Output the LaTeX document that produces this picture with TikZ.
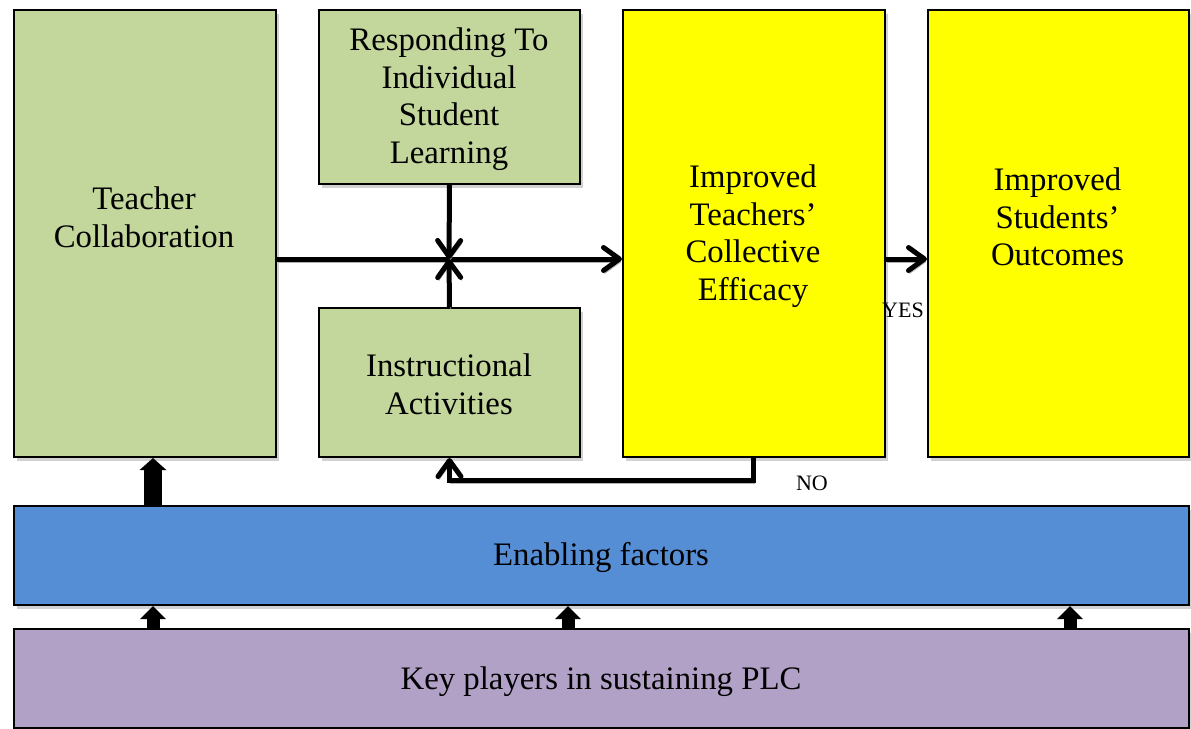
\documentclass[tikz,border=0pt]{standalone}
\usepackage{fontspec}
\setmainfont{Liberation Serif}
\usetikzlibrary{arrows.meta,shadows}

\definecolor{boxgreen}{HTML}{C3D69B}
\definecolor{boxyellow}{HTML}{FFFF00}
\definecolor{boxblue}{HTML}{558ED5}
\definecolor{boxpurple}{HTML}{B2A1C7}

\begin{document}
\begin{tikzpicture}[x = 0.5pt, y = -0.5pt,
                    box/.style = {shape = rectangle,
                                  anchor = north west,
                                  line width = 1pt,
                                  inner sep = 0pt,
                                  align = center,
                                  font = \fontsize{16.4}{18.8}\selectfont,
                                  drop shadow = {shadow xshift = 1.5pt,
                                                 shadow yshift = -2pt,
                                                 fill = black!30,
                                                 opacity = .6},
                                  draw},
                    txt/.style = {align = center,
                                  font = \fontsize{16.4}{18.8}\selectfont},
                    answer/.style = {font = \fontsize{11}{13}\selectfont},
                    shade/.style = {preaction = {draw = black!30,
                                                 transform canvas = {shift = {(0.6pt,-1.5pt)}}}},
                    line/.style = {line width = 2.5pt,
                                   shade,
                                   -{Straight Barb[length = 8pt, width = 11.5pt, round]}},
                    fat/.style = {line width = 9pt,
                                  -{Triangle[length = 6pt, width = 13pt]}},
                    lift/.style = {line width = 6.5pt,
                                   -{Triangle[length = 6.5pt, width = 12.5pt]}}]
		\useasboundingbox (0,0) rectangle (1191,729);

		% top row
		\node[box, fill = boxgreen, minimum width = 131pt, minimum height = 223.5pt] (collab) at (13,9) {};
		\node[txt] (collabtext) at (144,217) {Teacher\\Collaboration};
		\node[box, fill = boxgreen, minimum width = 130.5pt, minimum height = 87pt] (respond) at (318,9) {};
		\node[txt] (respondtext) at (449,99) {Responding To\\Individual\\Student\\Learning};
		\node[box, fill = boxgreen, minimum width = 130.5pt, minimum height = 74.5pt] (instr) at (318,307) {};
		\node[txt] (instrtext) at (449,384) {Instructional\\Activities};
		\node[box, fill = boxyellow, minimum width = 131pt, minimum height = 223.5pt] (efficacy) at (622,9) {};
		\node[txt] (efficacytext) at (753,236) {Improved\\Teachers’\\Collective\\Efficacy};
		\node[box, fill = boxyellow, minimum width = 130.5pt, minimum height = 223.5pt] (outcome) at (927,9) {};
		\node[txt] (outcometext) at (1057.5,217) {Improved\\Students’\\Outcomes};

		% bottom bands
		\node[box, fill = boxblue, minimum width = 587.5pt, minimum height = 49.5pt] (enabling) at (13,505) {};
		\node[txt] (enablingtext) at (601,557) {Enabling factors};
		\node[box, fill = boxpurple, minimum width = 587.5pt, minimum height = 49.5pt] (players) at (13,628) {};
		\node[txt] (playerstext) at (601,682) {Key players in sustaining PLC};

		% arrows between the boxes
		\coordinate (cross) at (449,259);
		\coordinate (back) at (753,480);
		\draw[line] (collab.east |- cross) -- (cross -| efficacy.west);
		\draw[line] (respond.south) -- (cross);
		\draw[line] (instr.north) -- (cross);
		\draw[line] (efficacy.east |- cross) -- (outcome.west |- cross);
		\draw[line] (efficacy.south -| back) -- (back) -- (back -| instr.south) -- (instr.south);
		\node[answer] (yes) at (903,310) {YES};
		\node[answer] (no) at (812,483) {NO};

		% block arrows up from the bands
		\draw[fat] (enabling.north -| 153,0) -- (collab.south -| 153,0);
		\foreach \x in {153,568,1070}
			\draw[lift] (players.north -| \x,0) -- (enabling.south -| \x,0);
	\end{tikzpicture}
\end{document}
